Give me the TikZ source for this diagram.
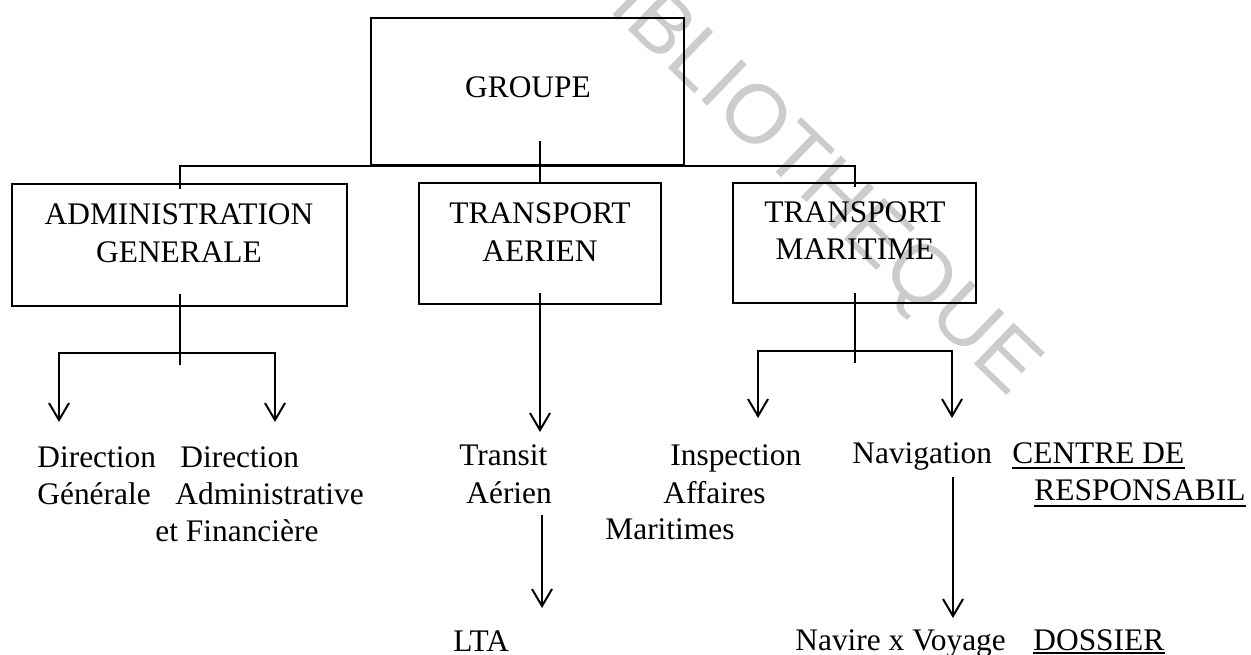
\documentclass[tikz,border=0pt]{standalone}
\usepackage{fontspec}
\setmainfont{Liberation Serif}
\newfontfamily\wmsans{Liberation Sans}
\usetikzlibrary{arrows.meta}
\newcommand\lblfont{\fontsize{15.7pt}{18.5pt}\selectfont}
\newcommand\wmfont{\wmsans\fontsize{41.6pt}{45pt}\selectfont}
\begin{document}
\begin{tikzpicture}[x=0.5pt,y=-0.5pt,
  box/.style={draw,line width=1pt,inner sep=0pt},
  ttl/.style={font=\lblfont,inner sep=0pt,anchor=base},
  lbl/.style={font=\lblfont,inner sep=0pt,anchor=base west},
  conn/.style={line width=1pt},
  arr/.style={line width=1pt,-{Straight Barb[length=8.5pt,width=10pt]}},
  uline/.style={line width=0.7pt},
  wm/.style={font=\wmfont,text=black!20,rotate=-44,inner sep=0pt}]
\useasboundingbox (0,0) rectangle (1251,654);
\fill[white] (0,0) rectangle (1251,654);

% background stamp
\node[wm] (wmark) at (803,169) {BIBLIOTHEQUE};

% boxes
\node[box,minimum width=156.5pt,minimum height=73.5pt] (groupe) at (527.5,91.5) {};
\node[box,minimum width=167.5pt,minimum height=61pt] (adm) at (179.5,245) {};
\node[box,minimum width=121pt,minimum height=60.5pt] (aer) at (540,243.5) {};
\node[box,minimum width=121.5pt,minimum height=60pt] (mar) at (854.5,243) {};

% box titles
\node[ttl] (groupeT) at (528,97) {GROUPE};
\node[ttl] (admT1) at (179,224) {ADMINISTRATION};
\node[ttl] (admT2) at (179,262) {GENERALE};
\node[ttl] (aerT1) at (540,223) {TRANSPORT};
\node[ttl] (aerT2) at (540,261) {AERIEN};
\node[ttl] (marT1) at (855,222) {TRANSPORT};
\node[ttl] (marT2) at (855,259) {MARITIME};

% lower labels
\node[lbl] (dg1) at (37,467) {Direction};
\node[lbl] (dg2) at (37,504) {Générale};
\node[lbl] (daf1) at (180,467) {Direction};
\node[lbl] (daf2) at (175,504) {Administrative};
\node[lbl] (daf3) at (155,541) {et Financière};
\node[lbl] (ta1) at (459,465) {Transit};
\node[lbl] (ta2) at (466,503) {Aérien};
\node[lbl] (iam1) at (670,465) {Inspection};
\node[lbl] (iam2) at (663,503) {Affaires};
\node[lbl] (iam3) at (605,539) {Maritimes};
\node[lbl] (nav) at (852,463) {Navigation};
\node[lbl] (cen1) at (1012,463) {CENTRE DE};
\node[lbl] (cen2) at (1034,500) {RESPONSABIL};
\node[lbl] (lta) at (453,651) {LTA};
\node[lbl] (nv) at (795,650) {Navire x Voyage};
\node[lbl] (dos) at (1033,650) {DOSSIER};

% underlines
\draw[uline] ([yshift=-2.5pt]cen1.base west) -- ([yshift=-2.5pt]cen1.base east);
\draw[uline] ([yshift=-3pt]cen2.base west) -- ([yshift=-3pt]cen2.base east);
\draw[uline] ([yshift=-1.5pt]dos.base west) -- ([yshift=-1.5pt]dos.base east);

% junctions and arrow ends
\coordinate (admJ) at (adm.south |- 0,353);
\coordinate (marJ) at (mar.south |- 0,351);
\coordinate (dgTip) at (59,422);
\coordinate (dafTip) at (275,422);
\coordinate (inspTip) at (758,418);
\coordinate (navTip) at (952,418);
\coordinate (taStart) at (542,515);
\coordinate (ltaTip) at (542,608);
\coordinate (navStart) at (953,477);
\coordinate (nvTip) at (953,618);

% group bus
\draw[conn] ([yshift=-3pt]adm.north) -- (adm.north |- groupe.south)
  -- (mar.north |- groupe.south) -- ([yshift=-2.5pt]mar.north);
\draw[conn] ([yshift=12.5pt]groupe.south -| aer.north) -- (aer.north);

% administration
\draw[conn] ([yshift=6.5pt]adm.south) -- ([yshift=-6pt]admJ);
\draw[arr] (admJ) -| (dgTip);
\draw[arr] (admJ) -| (dafTip);

% transport aerien
\draw[arr] ([yshift=6pt]aer.south) -- (aer.south |- 0,432);
\draw[arr] (taStart) -- (ltaTip);

% transport maritime
\draw[conn] ([yshift=5.5pt]mar.south) -- ([yshift=-6pt]marJ);
\draw[arr] (marJ) -| (inspTip);
\draw[arr] (marJ) -| (navTip);
\draw[arr] (navStart) -- (nvTip);
\end{tikzpicture}
\end{document}
